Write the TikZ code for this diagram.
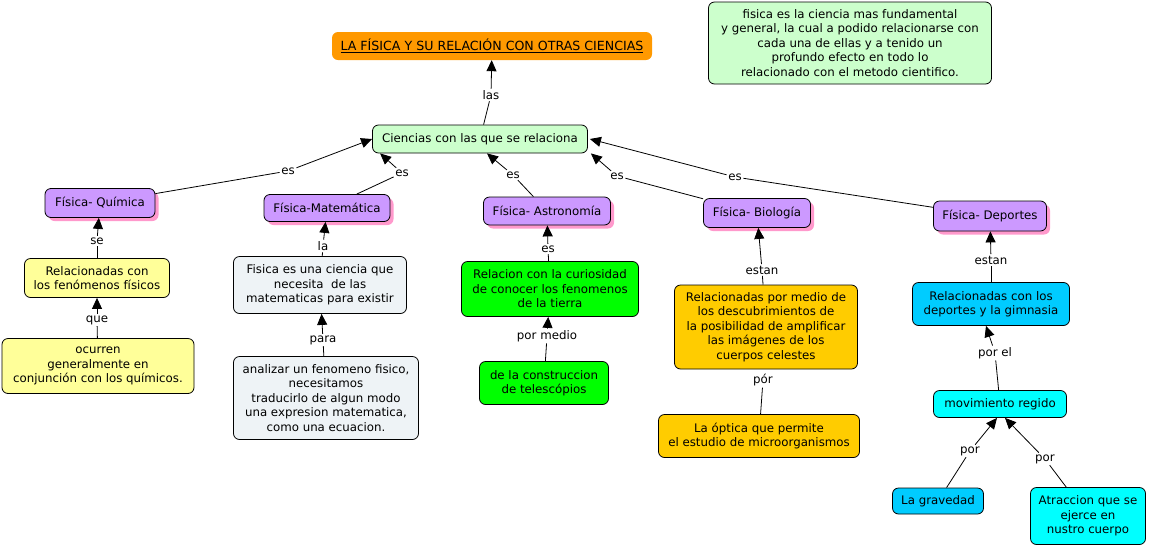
\documentclass[tikz,border=0pt]{standalone}
\usepackage{fontspec}
\setmainfont{DejaVu Sans}
\usetikzlibrary{arrows.meta,shadows,calc}
\definecolor{corange}{HTML}{FF9900}
\definecolor{cmint}{HTML}{CCFFCC}
\definecolor{cpurple}{HTML}{CC99FF}
\definecolor{cpink}{HTML}{FF99CC}
\definecolor{cyellow}{HTML}{FFFF99}
\definecolor{cgrayblue}{HTML}{EEF3F6}
\definecolor{cgreen}{HTML}{00FF00}
\definecolor{cgold}{HTML}{FFCC00}
\definecolor{cblue}{HTML}{00CCFF}
\definecolor{ccyan}{HTML}{00FFFF}
\begin{document}
\begin{tikzpicture}[x=1pt,y=-1pt,
  font=\fontsize{11.8}{14.5}\selectfont,
  box/.style={draw=black, line width=0.8pt, rounded corners=6pt, align=center, inner sep=2pt},
  phys/.style={box, fill=cpurple, drop shadow={shadow xshift=3.5pt, shadow yshift=-3.5pt, fill=cpink, opacity=1}},
  lbl/.style={inner sep=1.5pt, align=center},
  conn/.style={line width=0.8pt},
  arr/.style={line width=0.8pt, -{Triangle[length=11pt,width=10pt]}}]
\useasboundingbox (0,0) rectangle (1149,547);
% nodes
\node[fill=corange, rounded corners=6pt, minimum width=320, minimum height=28, inner sep=2pt, font=\fontsize{12.6}{14.5}\selectfont] (title) at (492,46) {\underline{LA FÍSICA Y SU RELACIÓN CON OTRAS CIENCIAS}};
\node[box, fill=cmint, minimum width=283, minimum height=82] (note) at (850,43) {fisica es la ciencia mas fundamental\\ y general, la cual a podido relacionarse con\\ cada una de ellas y a tenido un\\ profundo efecto en todo lo\\ relacionado con el metodo cientifico.};
\node[box, fill=cmint, minimum width=215, minimum height=28] (cien) at (480,139) {Ciencias con las que se relaciona};
\node[phys, minimum width=110, minimum height=29] (quim) at (100,203) {Física- Química};
\node[phys, minimum width=126, minimum height=27] (mate) at (327,208) {Física-Matemática};
\node[phys, minimum width=127, minimum height=28] (astro) at (547,211) {Física- Astronomía};
\node[phys, minimum width=107, minimum height=29] (bio) at (757,213) {Física- Biología};
\node[phys, minimum width=113, minimum height=30] (dep) at (990,216) {Física- Deportes};
\node[box, fill=cyellow, minimum width=145, minimum height=39] (fen) at (97,278) {Relacionadas con\\ los fenómenos físicos};
\node[box, fill=cyellow, minimum width=192, minimum height=55] (ocu) at (98,366) {ocurren\\ generalmente en\\ conjunción con los químicos.};
\node[box, fill=cgrayblue, minimum width=173, minimum height=57] (fces) at (320,285) {Fisica es una ciencia que\\ necesita\ \ de las\\ matematicas para existir};
\node[box, fill=cgrayblue, minimum width=185, minimum height=83] (anal) at (326,398) {analizar un fenomeno fisico,\\ necesitamos\\ traducirlo de algun modo\\ una expresion matematica,\\ como una ecuacion.};
\node[box, fill=cgreen, minimum width=177, minimum height=55] (curi) at (550,289) {Relacion con la curiosidad\\ de conocer los fenomenos\\ de la tierra};
\node[box, fill=cgreen, minimum width=129, minimum height=43] (tele) at (544,383) {de la construccion\\ de telescópios};
\node[box, fill=cgold, minimum width=183, minimum height=84] (desc) at (766,327) {Relacionadas por medio de\\ los descubrimientos de\\ la posibilidad de amplificar\\ las imágenes de los\\ cuerpos celestes};
\node[box, fill=cgold, minimum width=201, minimum height=43] (opt) at (759,436) {La óptica que permite\\ el estudio de microorganismos};
\node[box, fill=cblue, minimum width=157, minimum height=43] (rdep) at (991,304) {Relacionadas con los\\ deportes y la gimnasia};
\node[box, fill=ccyan, minimum width=133, minimum height=27] (mov) at (1000,404) {movimiento regido};
\node[box, fill=cblue, minimum width=91, minimum height=26] (grav) at (938,501) {La gravedad};
\node[box, fill=ccyan, minimum width=115, minimum height=57] (atr) at (1088,516) {Atraccion que se\\ ejerce en\\ nustro cuerpo};
% labels
\node[lbl] (l1) at (491,95) {las};
\node[lbl] (l2) at (288,171) {es};
\node[lbl] (l3) at (402,173) {es};
\node[lbl] (l4) at (513,175) {es};
\node[lbl] (l5) at (617,176) {es};
\node[lbl] (l6) at (735,177) {es};
\node[lbl] (l7) at (97,241) {se};
\node[lbl] (l8) at (97,320) {que};
\node[lbl] (l9) at (323,246) {la};
\node[lbl] (l10) at (323,340) {para};
\node[lbl] (l11) at (548,249) {es};
\node[lbl] (l12) at (547,336) {por medio};
\node[lbl] (l13) at (762,270) {estan};
\node[lbl] (l14) at (763,380) {pór};
\node[lbl] (l15) at (991,260) {estan};
\node[lbl] (l16) at (995,353) {por el};
\node[lbl] (l17) at (970,451) {por};
\node[lbl] (l18) at (1045,459) {por};
% connectors
\draw[conn] (cien) -- (l1); \draw[arr] (l1) -- (title);
\draw[conn] (quim) -- (l2); \draw[arr] (l2) -- (cien.west);
\draw[conn] (mate) -- (l3); \draw[arr] (l3) -- ([xshift=8pt]cien.south west);
\draw[conn] (astro) -- (l4); \draw[arr] (l4) -- ([xshift=7pt]cien.south);
\draw[conn] (bio) -- (l5); \draw[arr] (l5) -- ([xshift=3pt]cien.south east);
\draw[conn] (dep) -- (l6); \draw[arr] (l6) -- ([xshift=2pt]cien.east);
\draw[conn] (fen) -- (l7); \draw[arr] (l7) -- (quim);
\draw[conn] (ocu) -- (l8); \draw[arr] (l8) -- (fen);
\draw[conn] (fces) -- (l9); \draw[arr] (l9) -- (mate);
\draw[conn] (anal) -- (l10); \draw[arr] (l10) -- (fces);
\draw[conn] (curi) -- (l11); \draw[arr] (l11) -- (astro);
\draw[conn] (tele) -- (l12); \draw[arr] (l12) -- (curi);
\draw[conn] (desc) -- (l13); \draw[arr] (l13) -- (bio);
\draw[conn] (opt) -- (l14);
\draw[conn] (rdep) -- (l15); \draw[arr] (l15) -- (dep);
\draw[conn] (mov) -- (l16); \draw[arr] (l16) -- ([xshift=-5pt]rdep.south);
\draw[conn] (grav) -- (l17); \draw[arr] (l17) -- ([xshift=-3pt]mov.south);
\draw[conn] (atr) -- (l18); \draw[arr] (l18) -- ([xshift=5pt]mov.south);
\end{tikzpicture}
\end{document}
